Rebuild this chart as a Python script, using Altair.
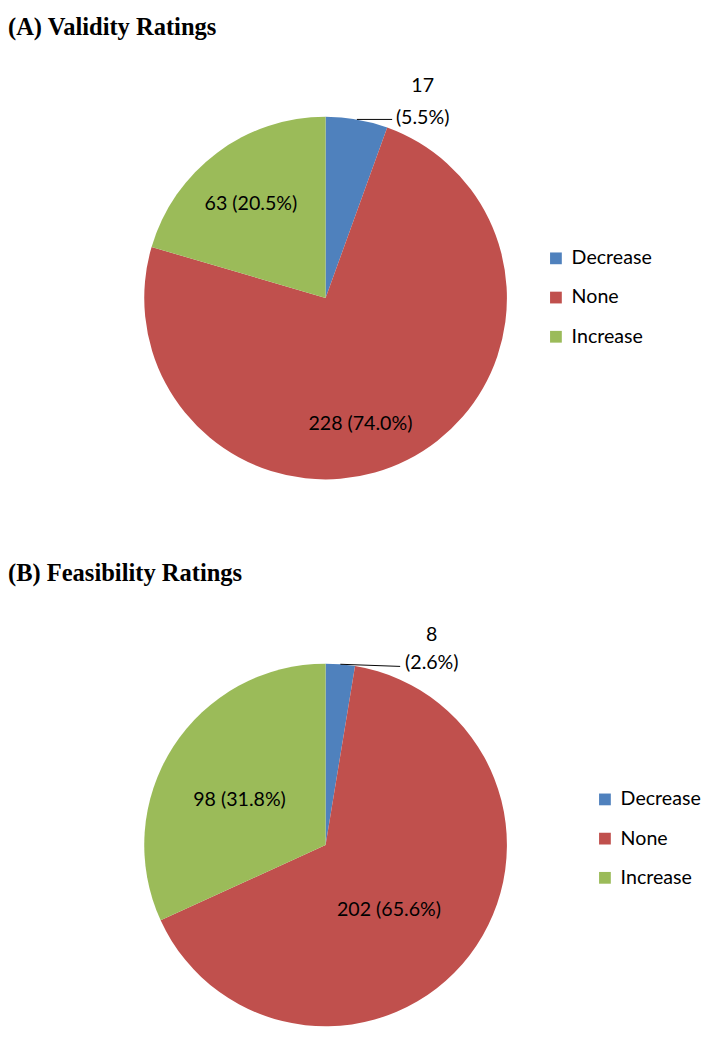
import altair as alt
import pandas as pd

CATEGORIES = ["Decrease", "None", "Increase"]
COLORS = ["#4F81BD", "#C0504D", "#9BBB59"]
VALIDITY_COUNTS = [17, 228, 63]
VALIDITY_PCT = ["5.5%", "74.0%", "20.5%"]
FEASIBILITY_COUNTS = [8, 202, 98]
FEASIBILITY_PCT = ["2.6%", "65.6%", "31.8%"]
TITLES = ["(A) Validity Ratings", "(B) Feasibility Ratings"]

R = 185
FONT = "Lato"
FS = 20


def make_df(counts, pcts):
    rows = []
    for k, (c, n, p) in enumerate(zip(CATEGORIES, counts, pcts)):
        sep = "\n" if k == 0 else " "
        rows.append({"cat": c, "k": k, "count": n, "label": f"{n}{sep}({p})"})
    return pd.DataFrame(rows)


def panel(df, title, W, H, title_offset, legend_x, legend_y, inside, outside, leader):
    base = alt.Chart(df).encode(
        theta=alt.Theta("count:Q", stack=True),
        order=alt.Order("k:Q"),
    )
    arcs = base.mark_arc(outerRadius=R, strokeWidth=0).encode(
        color=alt.Color(
            "cat:N",
            scale=alt.Scale(domain=CATEGORIES, range=COLORS),
            legend=alt.Legend(
                orient="none", legendX=legend_x, legendY=legend_y, title=None,
                symbolType="square", symbolSize=144, symbolStrokeWidth=0,
                labelFont=FONT, labelFontSize=FS, labelColor="black",
                rowPadding=20, labelOffset=6, padding=0,
            ),
        )
    )
    layers = [arcs]
    for cat, r, dx, dy in inside:
        layers.append(
            base.mark_text(radius=r, dx=dx, dy=dy, font=FONT, fontSize=FS, color="black",
                           align="center", baseline="middle").encode(
                detail="cat:N",
                text=alt.condition(f"datum.cat === '{cat}'", alt.Text("label:N"), alt.value("")),
            )
        )
    cat, r, dx, dy, lh = outside
    layers.append(
        base.mark_text(radius=r, dx=dx, dy=dy, font=FONT, fontSize=FS, color="black",
                       align="center", baseline="middle", lineBreak="\n", lineHeight=lh).encode(
            detail="cat:N",
            text=alt.condition(f"datum.cat === '{cat}'", alt.Text("label:N"), alt.value("")),
        )
    )
    ldx, ldy = leader
    rule = (
        alt.Chart(df)
        .transform_joinaggregate(total="sum(count)")
        .transform_window(cum="sum(count)", sort=[alt.SortField("k")])
        .transform_calculate(mid="2*PI*(datum.cum - datum.count/2)/datum.total")
        .transform_calculate(sx=f"{R}*sin(datum.mid)", sy=f"{R}*cos(datum.mid)")
        .transform_calculate(ex=f"datum.sx + {ldx}", ey=f"datum.sy - {ldy}")
        .transform_filter(f"datum.cat === '{cat}'")
        .mark_rule(color="black", strokeWidth=1)
        .encode(
            x=alt.X("sx:Q", scale=alt.Scale(domain=[-W / 2, W / 2], nice=False, zero=False), axis=None),
            x2="ex:Q",
            y=alt.Y("sy:Q", scale=alt.Scale(domain=[-H / 2, H / 2], nice=False, zero=False), axis=None),
            y2="ey:Q",
        )
    )
    layers.append(rule)
    return alt.layer(*layers).properties(
        width=W,
        height=H,
        title=alt.TitleParams(
            text=title, anchor="start", frame="group", font="Liberation Serif",
            fontSize=25, fontWeight="bold", color="black", offset=title_offset,
        ),
    )


dfA = make_df(VALIDITY_COUNTS, VALIDITY_PCT)
dfB = make_df(FEASIBILITY_COUNTS, FEASIBILITY_PCT)

pA = panel(
    dfA, TITLES[0], 648, 503, 12, 549, 201,
    inside=[("None", 133, -24.6, 9.6), ("Increase", 122, -3.1, 1.7)],
    outside=("Decrease", 203, 64, -16, 32),
    leader=(36, 0),
)
pB = panel(
    dfB, TITLES[1], 648, 373, 40.2, 599, 130,
    inside=[("None", 93, -9.2, 10.3), ("Increase", 99, -4.5, 7.5)],
    outside=("Decrease", 200.7, 92, -14.25, 28.5),
    leader=(61, 2.2),
)

chart = (
    alt.vconcat(pA, pB, spacing=17)
    .resolve_scale(color="independent", theta="independent", x="independent", y="independent")
    .resolve_legend(color="independent")
    .properties(padding={"top": -3, "bottom": 0, "left": 0, "right": 0}, background="white")
    .configure_view(stroke=None)
)

chart.save("out.html", embed_options={"renderer": "svg", "actions": False})
